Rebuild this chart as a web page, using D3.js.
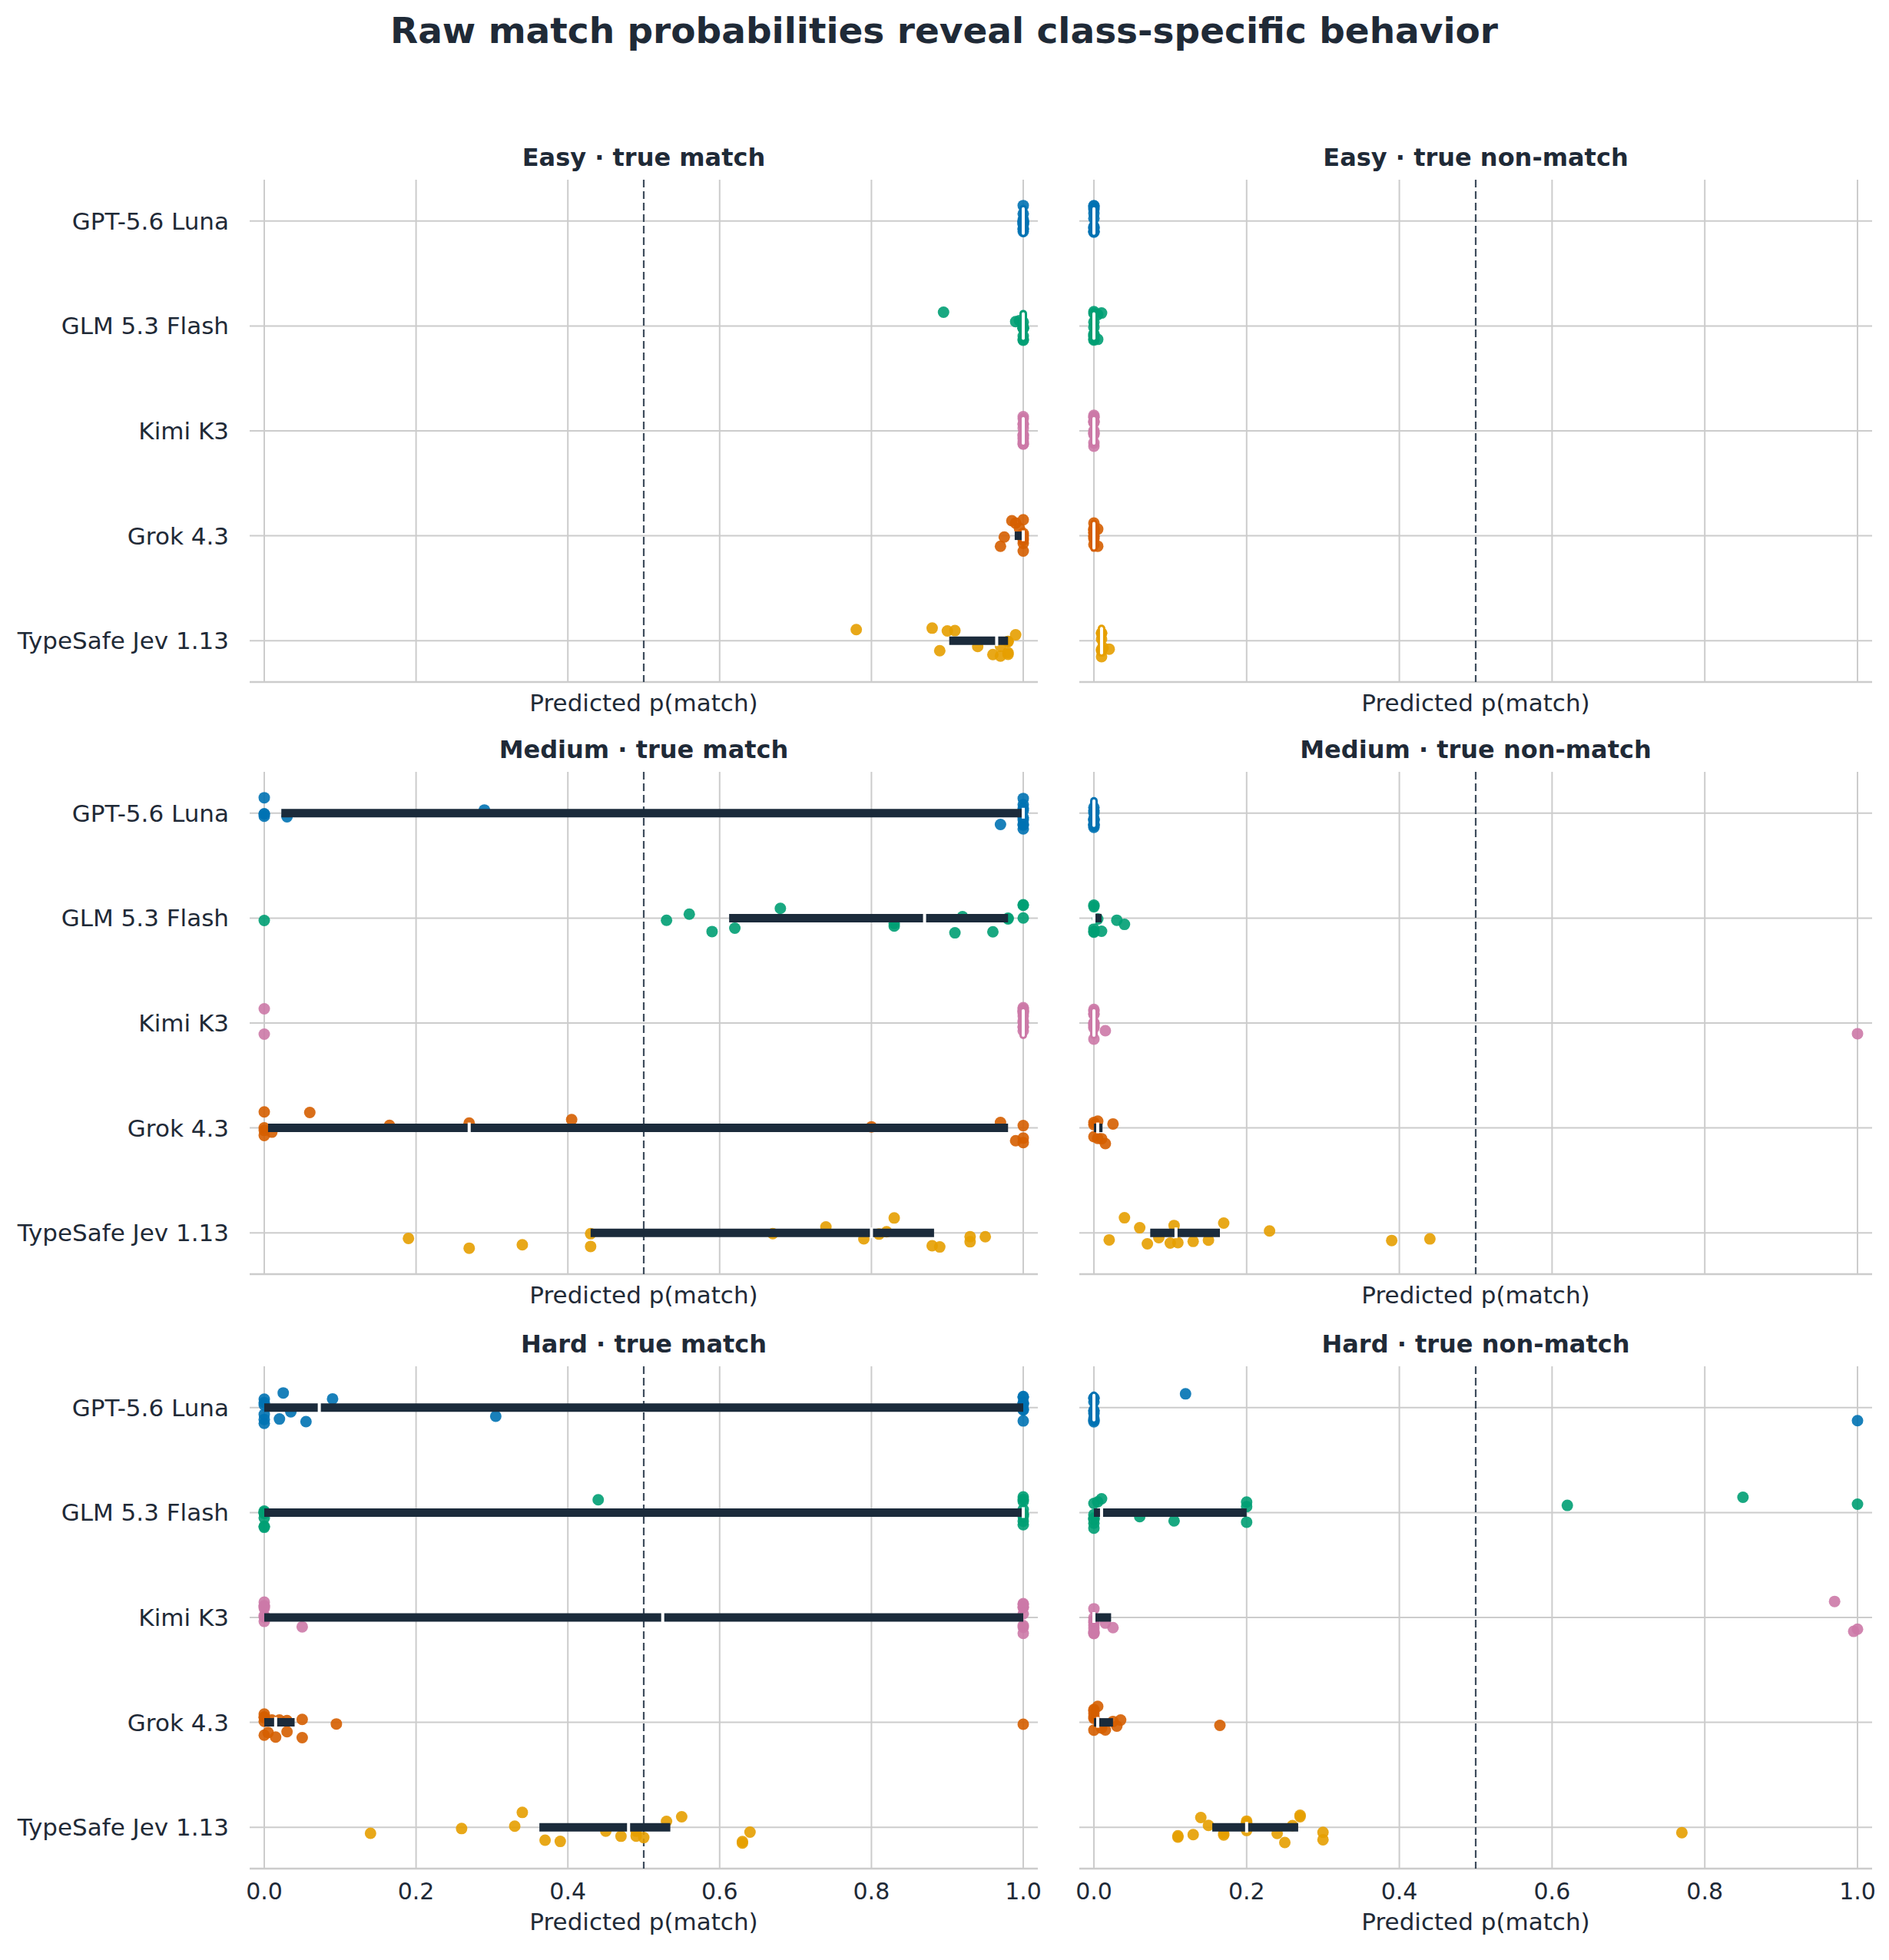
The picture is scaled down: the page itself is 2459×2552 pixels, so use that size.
<!DOCTYPE html>
<html>
<head>
<meta charset="utf-8">
<script src="https://cdn.jsdelivr.net/npm/d3@7"></script>
<style>
  body { margin: 0; background: #fff; }
  text { font-family: "DejaVu Sans", sans-serif; }
</style>
</head>
<body>
<svg id="chart" width="2459" height="2552"></svg>
<script>
var models = ["GPT-5.6 Luna", "GLM 5.3 Flash", "Kimi K3", "Grok 4.3", "TypeSafe Jev 1.13"];
var colors = ["#0072B2", "#009E73", "#CC79A7", "#D55E00", "#E69F00"];
var difficulties = ["Easy", "Medium", "Hard"];
var classes = ["true match", "true non-match"];
var xTicks = [0, 0.2, 0.4, 0.6, 0.8, 1.0];

function rep(v, n) { return Array(n).fill(v); }

// values per panel, per model (order of models)
var easyMatch = [
    rep(1, 12),
    [0.895, 0.99, 0.995].concat(rep(1, 9)),
    rep(1, 12),
    [0.97, 0.975, 0.985, 0.99, 0.995].concat(rep(1, 7)),
    [0.78, 0.88, 0.89, 0.90, 0.91, 0.94, 0.96, 0.97, 0.97, 0.98, 0.98, 0.98, 0.98, 0.99]
];
var easyNon = [
    rep(0, 12),
    rep(0, 9).concat([0.005, 0.005, 0.01]),
    rep(0, 12),
    rep(0, 10).concat([0.005, 0.005]),
    [0.01, 0.01, 0.01, 0.01, 0.01, 0.02, 0.01, 0.012]
];
var mediumMatch = [
    [0, 0, 0, 0, 0.03, 0.29, 0.97].concat(rep(1, 9)),
    [0, 0.53, 0.56, 0.59, 0.62, 0.68, 0.83, 0.83, 0.91, 0.92, 0.96, 0.98, 0.98, 1, 1, 1],
    [0, 0].concat(rep(1, 12)),
    [0, 0, 0, 0, 0.01, 0.06, 0.165, 0.27, 0.405, 0.80, 0.97, 0.99, 1, 1, 1],
    [0.19, 0.27, 0.34, 0.43, 0.43, 0.67, 0.74, 0.79, 0.81, 0.82, 0.83, 0.88, 0.89, 0.93, 0.93, 0.95]
];
var mediumNon = [
    rep(0, 12),
    [0, 0, 0, 0, 0, 0.005, 0.01, 0.03, 0.04],
    rep(0, 10).concat([0.015, 1.0]),
    [0, 0, 0, 0.005, 0.005, 0.01, 0.015, 0.025],
    [0.02, 0.04, 0.06, 0.07, 0.085, 0.10, 0.105, 0.11, 0.13, 0.15, 0.17, 0.23, 0.39, 0.44]
];
var hardMatch = [
    rep(0, 6).concat([0.02, 0.025, 0.035, 0.055, 0.09, 0.305]).concat(rep(1, 8)),
    rep(0, 7).concat([0.44]).concat(rep(1, 9)),
    rep(0, 7).concat([0.05]).concat(rep(1, 8)),
    [0, 0, 0, 0, 0, 0.005, 0.01, 0.015, 0.02, 0.03, 0.03, 0.05, 0.05, 0.095, 1.0],
    [0.14, 0.26, 0.33, 0.34, 0.37, 0.39, 0.45, 0.47, 0.49, 0.49, 0.50, 0.53, 0.55, 0.63, 0.63, 0.64]
];
var hardNon = [
    rep(0, 10).concat([0.12, 1.0]),
    rep(0, 7).concat([0.005, 0.01, 0.06, 0.105, 0.2, 0.2, 0.2, 0.62, 0.85, 1.0]),
    rep(0, 9).concat([0.015, 0.025, 0.97, 0.995, 1.0]),
    rep(0, 6).concat([0.005, 0.01, 0.015, 0.025, 0.03, 0.035, 0.165]),
    [0.11, 0.11, 0.13, 0.14, 0.15, 0.17, 0.17, 0.2, 0.2, 0.2, 0.24, 0.25, 0.26, 0.27, 0.27, 0.3, 0.3, 0.77]
];
var panelData = [[easyMatch, easyNon], [mediumMatch, mediumNon], [hardMatch, hardNon]];

var svg = d3.select("#chart");
var dark = "#1f2a37";

svg.append("text").attr("x", 1229).attr("y", 56).attr("text-anchor", "middle")
    .attr("font-size", 47).attr("font-weight", "bold").attr("fill", dark)
    .text("Raw match probabilities reveal class-specific behavior");

var cols = [{ x0: 325, x1: 1351 }, { x0: 1405, x1: 2437 }];
var rowTops = [234, 1005, 1779];
var panelH = 654;

// deterministic jitter offset in [-1, 1]
function jit(i, j) {
    var s = Math.sin((i + 1) * 12.9898 + (j + 1) * 78.233) * 43758.5453;
    return (s - Math.floor(s)) * 2 - 1;
}

difficulties.forEach(function (diff, r) {
    classes.forEach(function (cls, c) {
        var top = rowTops[r], bottom = top + panelH;
        var x = d3.scaleLinear().domain([0, 1]).range([cols[c].x0 + 19, cols[c].x1 - 19]);
        var y = d3.scalePoint().domain(models).range([top, bottom]).padding(0.394);
        var g = svg.append("g");

        // grid
        g.selectAll("line.vg").data(xTicks).enter().append("line")
            .attr("x1", x).attr("x2", x).attr("y1", top).attr("y2", bottom)
            .attr("stroke", "#cccccc").attr("stroke-width", 2);
        g.selectAll("line.hg").data(models).enter().append("line")
            .attr("x1", cols[c].x0).attr("x2", cols[c].x1)
            .attr("y1", y).attr("y2", y)
            .attr("stroke", "#cccccc").attr("stroke-width", 2);
        g.append("line").attr("x1", cols[c].x0).attr("x2", cols[c].x1)
            .attr("y1", bottom).attr("y2", bottom)
            .attr("stroke", "#cccccc").attr("stroke-width", 2.5);
        g.append("line").attr("x1", x(0.5)).attr("x2", x(0.5)).attr("y1", top).attr("y2", bottom)
            .attr("stroke", "#3e4c5c").attr("stroke-width", 2.2).attr("stroke-dasharray", "10,5");

        // title
        g.append("text").attr("x", (cols[c].x0 + cols[c].x1) / 2).attr("y", top - 18)
            .attr("text-anchor", "middle").attr("font-size", 32).attr("font-weight", "bold")
            .attr("fill", dark).text(diff + " \u00b7 " + cls);

        // y labels
        if (c === 0) {
            g.selectAll("text.yl").data(models).enter().append("text")
                .attr("x", 298).attr("y", function (d) { return y(d) + 11; })
                .attr("text-anchor", "end").attr("font-size", 31).attr("fill", dark)
                .text(function (d) { return d; });
        }

        // x axis
        var isLast = r === difficulties.length - 1;
        if (isLast) {
            g.selectAll("text.xt").data(xTicks).enter().append("text")
                .attr("x", x).attr("y", bottom + 40).attr("text-anchor", "middle")
                .attr("font-size", 30).attr("fill", dark)
                .text(function (d) { return d3.format(".1f")(d); });
        }
        g.append("text").attr("x", (cols[c].x0 + cols[c].x1) / 2)
            .attr("y", bottom + (isLast ? 80 : 38))
            .attr("text-anchor", "middle").attr("font-size", 31).attr("fill", dark)
            .text("Predicted p(match)");

        // points + IQR
        panelData[r][c].forEach(function (vals, m) {
            var cy = y(models[m]);
            g.selectAll(null).data(vals).enter().append("circle")
                .attr("cx", function (d) { return x(d); })
                .attr("cy", function (d, i) { return cy + jit(i + r * 7, m + c * 5) * 21; })
                .attr("r", 7.5).attr("fill", colors[m]).attr("fill-opacity", 0.9);

            var s = vals.slice().sort(d3.ascending);
            var q1 = d3.quantile(s, 0.25), med = d3.quantile(s, 0.5), q3 = d3.quantile(s, 0.75);
            if (q3 - q1 > 0.002) {
                g.append("line").attr("x1", x(q1)).attr("x2", x(q3)).attr("y1", cy).attr("y2", cy)
                    .attr("stroke", "#1b2b3b").attr("stroke-width", 11);
                g.append("line").attr("x1", x(med)).attr("x2", x(med))
                    .attr("y1", cy - 7).attr("y2", cy + 7)
                    .attr("stroke", "#fff").attr("stroke-width", 4);
            } else {
                g.append("line").attr("x1", x(med)).attr("x2", x(med))
                    .attr("y1", cy - 16).attr("y2", cy + 16)
                    .attr("stroke", colors[m]).attr("stroke-width", 10).attr("stroke-linecap", "round");
                g.append("line").attr("x1", x(med)).attr("x2", x(med))
                    .attr("y1", cy - 16).attr("y2", cy + 16)
                    .attr("stroke", "#fff").attr("stroke-width", 4).attr("stroke-linecap", "round");
            }
        });
    });
});
</script>
</body>
</html>
